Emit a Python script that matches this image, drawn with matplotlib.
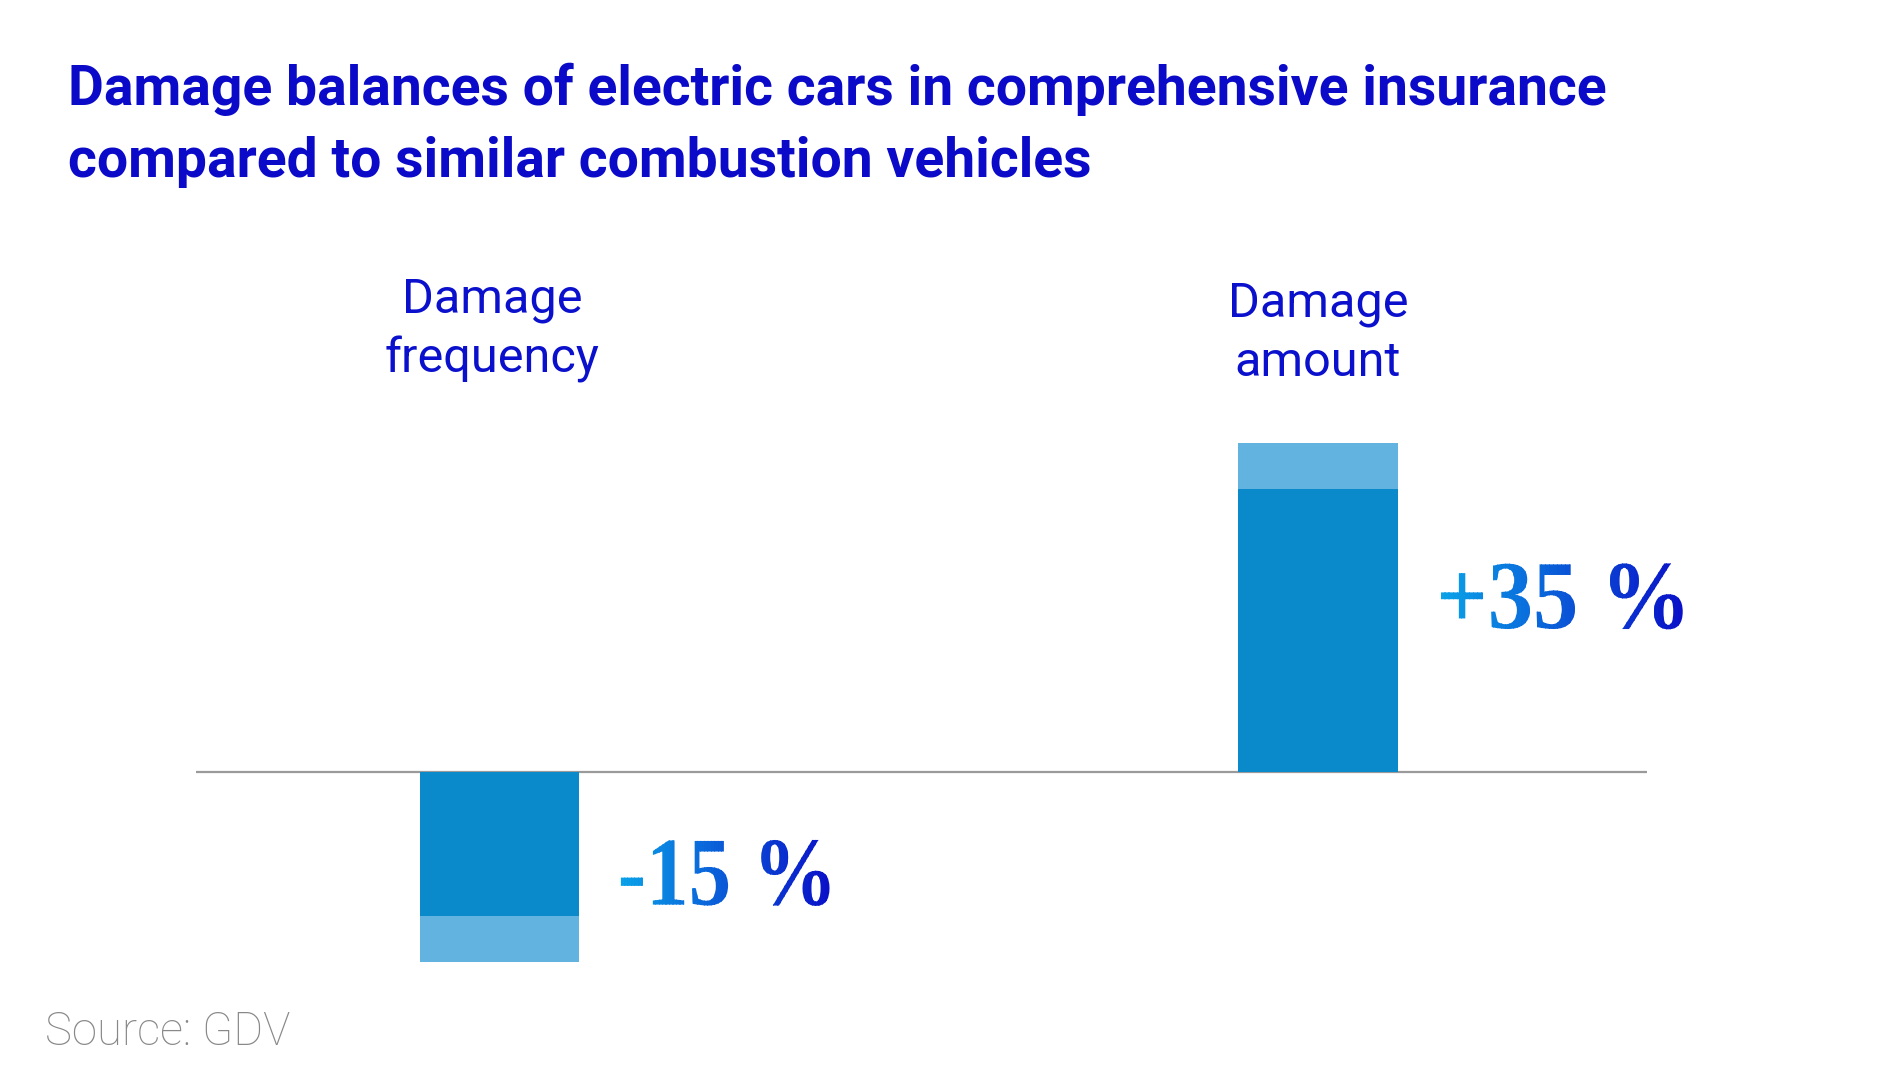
import matplotlib.pyplot as plt
from matplotlib.patheffects import AbstractPathEffect
from matplotlib.transforms import Affine2D, Bbox
from matplotlib.colors import to_rgb

# data
categories = ['Damage\nfrequency', 'Damage\namount']
changes = [-15, 35]            # printed change in %
bar_len = [-17.8, 35]          # dark part of each bar
cap_len = [-5.7, 5.7]          # light part at the end of each bar

# colours
title_blue = '#0a0ac8'
dark_bar = '#0a8acb'
light_bar = '#62b3e0'
grad_start = '#0aa2e8'
grad_end = '#0a10c8'


class GradientText(AbstractPathEffect):
    # squeezes the glyphs a bit and paints them with a left-to-right gradient
    def __init__(self, sx, c0, c1, n=60):
        super().__init__()
        self.sx = sx
        self.c0 = to_rgb(c0)
        self.c1 = to_rgb(c1)
        self.n = n

    def draw_path(self, renderer, gc, tpath, affine, rgbFace=None):
        aff = Affine2D().scale(self.sx, 1) + affine
        ext = tpath.get_extents(aff)
        gc0 = renderer.new_gc()
        gc0.copy_properties(gc)
        for k in range(self.n):
            xa = ext.x0 + ext.width * k / self.n
            xb = ext.x0 + ext.width * (k + 1) / self.n
            gc0.set_clip_rectangle(Bbox([[xa - 0.6, ext.y0 - 2], [xb + 0.6, ext.y1 + 2]]))
            f = (k + 0.5) / self.n
            col = tuple(a + (b - a) * f for a, b in zip(self.c0, self.c1))
            renderer.draw_path(gc0, tpath, aff, col)
        gc0.restore()


fig = plt.figure(figsize=(19, 10.69), dpi=100)
ax = fig.add_axes([196 / 1900, 0, 1451 / 1900, 1])
ax.set_xlim(-0.3708, 1.402)
ax.set_ylim(-36.73, 95.47)
ax.axis('off')

x = list(range(len(categories)))
width = 0.195

# baseline
ax.axhline(0, color='#9a9a9a', lw=1.6, zorder=1)

# bars: dark body plus light cap
ax.bar(x, bar_len, width=width, color=dark_bar, zorder=2)
ax.bar(x, cap_len, bottom=bar_len, width=width, color=light_bar, zorder=2)

# category labels above the chart
label_shift = [-0.009, 0]
label_top = [61.2, 60.7]
for i, cat in enumerate(categories):
    ax.text(x[i] + label_shift[i], label_top[i], cat, ha='center', va='top', fontsize=35,
            family='Roboto', color='#0a10cc', linespacing=1.36)

# value labels next to the bars
value_base = [-16.4, 17.8]
squeeze = [0.875, 0.93]
for i, v in enumerate(changes):
    txt = f'{v:+d} %' if v > 0 else f'-{abs(v)} %'
    ax.text(x[i] + width / 2 + 0.047, value_base[i], txt, ha='left', va='baseline',
            fontsize=70, family='Liberation Serif', weight='bold',
            path_effects=[GradientText(squeeze[i], grad_start, grad_end)])

# title and source
fig.text(68 / 1900, 1 - 63 / 1069,
         'Damage balances of electric cars in comprehensive insurance\ncompared to similar combustion vehicles',
         ha='left', va='top', fontsize=39.8, family='Roboto', weight='bold',
         color=title_blue, linespacing=1.48)
fig.text(45 / 1900, (1069 - 1045) / 1069, 'Source: GDV', ha='left', va='baseline',
         fontsize=32.8, family='Roboto', weight='light', color='#888888')

fig.savefig('out.png', dpi=100)
